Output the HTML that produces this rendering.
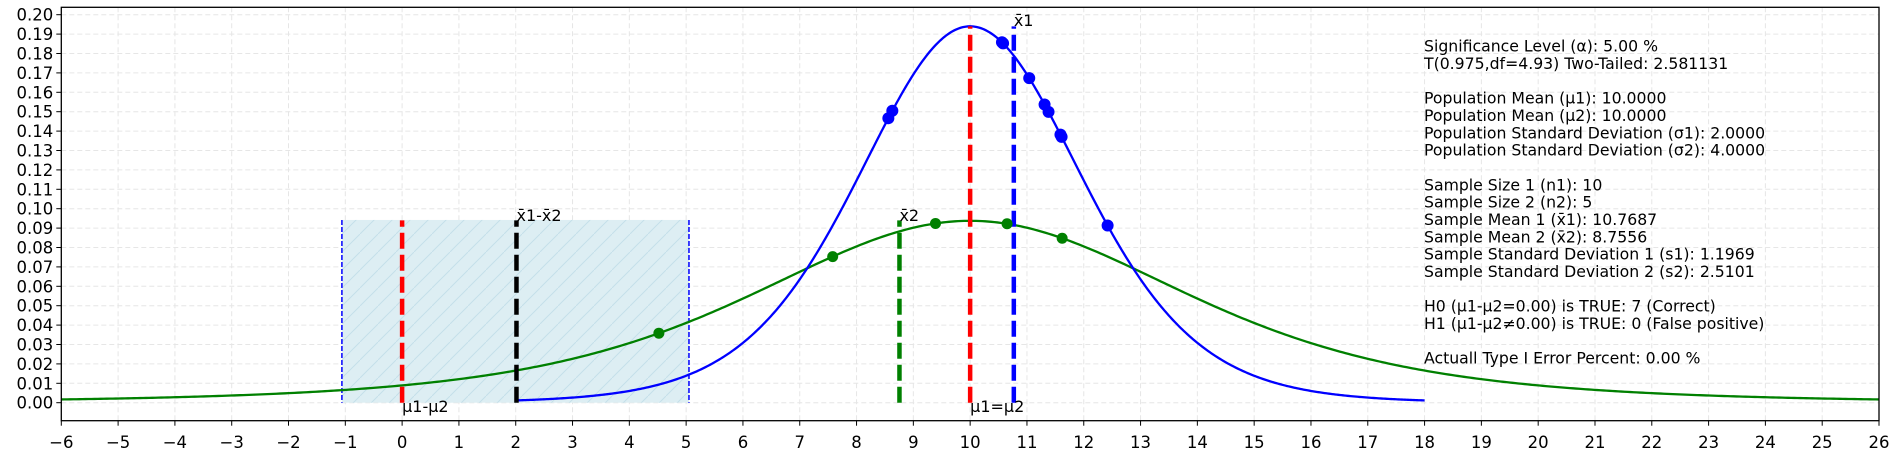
<!DOCTYPE html>
<html><head><meta charset="utf-8"><style>
html,body{margin:0;padding:0;background:#fff;}
svg{display:block;font-family:"DejaVu Sans","Liberation Sans",sans-serif;}
</style></head><body>
<svg id="chart" width="1900" height="458" viewBox="0 0 1900 458" xmlns="http://www.w3.org/2000/svg"></svg>
<script>
const xTicks=[-6,-5,-4,-3,-2,-1,0,1,2,3,4,5,6,7,8,9,10,11,12,13,14,15,16,17,18,19,20,21,22,23,24,25,26];
const yTicks=[0,0.01,0.02,0.03,0.04,0.05,0.06,0.07,0.08,0.09,0.10,0.11,0.12,0.13,0.14,0.15,0.16,0.17,0.18,0.19,0.20];
const sample1=[8.56,8.63,10.56,10.58,11.04,11.31,11.38,11.59,11.61,12.42];
const sample2=[4.52,7.58,9.39,10.65,11.62];
const mu1=10, mu2=10, xbar1=10.7687, xbar2=8.7556, df1=9, scale1=2, df2=4, scale2=4;
const ciLow=-1.06, ciHigh=5.05, ciHeight=0.0942;
const infoLines=["Significance Level (α): 5.00 %","T(0.975,df=4.93) Two-Tailed: 2.581131","","Population Mean (μ1): 10.0000","Population Mean (μ2): 10.0000","Population Standard Deviation (σ1): 2.0000","Population Standard Deviation (σ2): 4.0000","","Sample Size 1 (n1): 10","Sample Size 2 (n2): 5","Sample Mean 1 (x̄1): 10.7687","Sample Mean 2 (x̄2): 8.7556","Sample Standard Deviation 1 (s1): 1.1969","Sample Standard Deviation 2 (s2): 2.5101","","H0 (μ1-μ2=0.00) is TRUE: 7 (Correct)","H1 (μ1-μ2≠0.00) is TRUE: 0 (False positive)","","Actuall Type I Error Percent: 0.00 %"];

const L=61.3,R=1879,T=7.3,B=420.7,X0=-6,X1=26,Y0px=402.7,perY=1940;
const sx=x=>L+(x-X0)*(R-L)/(X1-X0);
const sy=y=>Y0px-y*perY;
const NS="http://www.w3.org/2000/svg";
const svg=document.getElementById('chart');
function mk(tag,attrs,parent){const e=document.createElementNS(NS,tag);for(const k in attrs)e.setAttribute(k,attrs[k]);(parent||svg).appendChild(e);return e;}
function gam(z){
 const g=7,c=[0.99999999999980993,676.5203681218851,-1259.1392167224028,771.32342877765313,-176.61502916214059,12.507343278686905,-0.13857109526572012,9.9843695780195716e-6,1.5056327351493116e-7];
 if(z<0.5)return Math.PI/(Math.sin(Math.PI*z)*gam(1-z));z-=1;let a=c[0];const t=z+g+0.5;for(let i=1;i<9;i++)a+=c[i]/(z+i);return Math.sqrt(2*Math.PI)*Math.pow(t,z+0.5)*Math.exp(-t)*a;}
function tpdf(x,df,loc,sc){const t=(x-loc)/sc;return gam((df+1)/2)/(Math.sqrt(df*Math.PI)*gam(df/2))*Math.pow(1+t*t/df,-(df+1)/2)/sc;}

const grid=mk('g',{});


xTicks.forEach(v=>mk('line',{x1:sx(v),x2:sx(v),y1:T,y2:B,stroke:'#e6e6e6','stroke-width':1,'stroke-dasharray':'5,3'},grid));
yTicks.forEach(v=>mk('line',{x1:L,x2:R,y1:sy(v),y2:sy(v),stroke:'#e6e6e6','stroke-width':1,'stroke-dasharray':'5,3'},grid));

const defs=mk('defs',{});
const pat=mk('pattern',{id:'hatch',width:18,height:18,patternUnits:'userSpaceOnUse'},defs);
mk('line',{x1:0,y1:18,x2:18,y2:0,stroke:'#c4dfea','stroke-width':1},pat);
const box=mk('rect',{x:sx(ciLow),y:sy(ciHeight),width:sx(ciHigh)-sx(ciLow),height:sy(0)-sy(ciHeight),fill:'#ddeef3'});


mk('rect',{x:sx(ciLow),y:sy(ciHeight),width:sx(ciHigh)-sx(ciLow),height:sy(0)-sy(ciHeight),fill:'url(#hatch)'});
[ciLow,ciHigh].forEach(v=>{const l=mk('line',{x1:sx(v),x2:sx(v),y1:sy(ciHeight),y2:sy(0),stroke:'#0000ff','stroke-width':1.5,'stroke-dasharray':'5,2'});

});

function curve(a,b,df,loc,sc,color,name){let d='';for(let i=0;i<=600;i++){const x=a+(b-a)*i/600;d+=(i?'L':'M')+sx(x).toFixed(2)+','+sy(tpdf(x,df,loc,sc)).toFixed(2);}
const p=mk('path',{d:d,fill:'none',stroke:color,'stroke-width':2.3});

}
curve(-6,26,df2,xbar2+1.2444,scale2,'#008000','sample2-curve');
curve(xbar1-xbar2,18,df1,mu1,scale1,'#0000ff','sample1-curve');

function vline(x,top,color,name){const l=mk('line',{x1:sx(x),x2:sx(x),y1:sy(0),y2:sy(top),stroke:color,'stroke-width':4.5,'stroke-dasharray':'16,6'});

}
vline(mu1,0.194,'#ff0000','mu-line');
vline(xbar1,0.194,'#0000ff','xbar1-line');
vline(xbar2,0.094,'#008000','xbar2-line');
vline(mu1-mu2,0.094,'#ff0000','mu-diff-line');
vline(xbar1-xbar2,0.094,'#000000','xbar-diff-line');

sample1.forEach(v=>{const c=mk('circle',{cx:sx(v),cy:sy(tpdf(v,df1,mu1,scale1)),r:6,fill:'#0000ff'});

});
sample2.forEach(v=>{const c=mk('circle',{cx:sx(v),cy:sy(tpdf(v,df2,xbar2+1.2444,scale2)),r:5.5,fill:'#008000'});

});

function lab(x,y,txt,name){const t=mk('text',{x:x,y:y,'font-size':16,fill:'#000'});t.textContent=txt;

}
lab(sx(xbar1),26,'x̄1','xbar1-label');
lab(sx(xbar2),221,'x̄2','xbar2-label');
lab(sx(xbar1-xbar2),221,'x̄1-x̄2','xbar-diff-label');
lab(sx(0),412,'μ1-μ2','mu-diff-label');
lab(sx(10),412,'μ1=μ2','mu-equal-label');

const fr=mk('rect',{x:L,y:T,width:R-L,height:B-T,fill:'none',stroke:'#000','stroke-width':1.3});


xTicks.forEach(v=>{mk('line',{x1:sx(v),x2:sx(v),y1:B,y2:B+5,stroke:'#000','stroke-width':1});
const t=mk('text',{x:sx(v),y:448,'font-size':16.5,'text-anchor':'middle'});t.textContent=(v<0?'−'+(-v):String(v));

});
yTicks.forEach(v=>{mk('line',{x1:L-5,x2:L,y1:sy(v),y2:sy(v),stroke:'#000','stroke-width':1});
const t=mk('text',{x:L-8,y:sy(v)+6,'font-size':16.5,'text-anchor':'end'});t.textContent=v.toFixed(2);

});

const info=mk('g',{});


infoLines.forEach((s,i)=>{if(!s)return;const t=mk('text',{x:1424,y:51.7+i*17.33,'font-size':15.7},info);t.textContent=s;});
</script>
</body></html>
